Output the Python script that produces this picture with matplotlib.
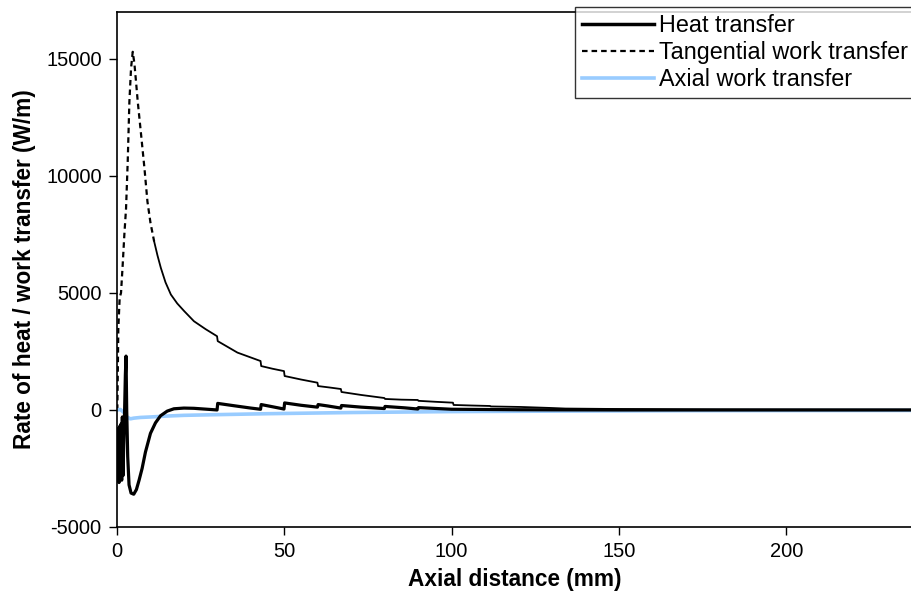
import matplotlib
matplotlib.use("Agg")
import matplotlib.pyplot as plt
from matplotlib.lines import Line2D

plt.rcParams['font.family'] = ['Liberation Sans', 'DejaVu Sans']
plt.rcParams['axes.unicode_minus'] = False

# Heat transfer
heat_x = [0, 0.2, 0.4, 0.6, 0.8, 1.0, 1.2, 1.4, 1.6, 1.8, 2.0, 2.2, 2.5, 2.7, 2.9,
          3.2, 3.6, 4.2, 5.0, 5.8, 6.6, 7.5, 8.5, 10, 11.5, 13, 15, 17, 20, 23, 26,
          29.9, 30.1, 35, 40, 42.9, 43.1, 46, 49.9, 50.1, 55, 59.9, 60.1, 63, 66.9,
          67.1, 73, 79.9, 80.1, 86, 89.9, 90.1, 100, 110, 120, 130, 150, 180, 238]
heat_y = [-800, -3000, -900, -3100, -700, -2900, -600, -3000, -300, -2800, -1500,
          -500, 1500, 2300, 0, -2000, -3200, -3550, -3600, -3400, -3000, -2500,
          -1800, -1000, -550, -250, -50, 50, 80, 70, 40, 0, 280, 180, 80, 30, 230,
          150, 40, 300, 200, 120, 230, 170, 80, 190, 120, 60, 150, 90, 40, 100, 30,
          20, 10, 5, 0, 0, 0]

# Tangential work transfer
tan_x = [0.1, 0.4, 0.8, 1.2, 1.7, 2.2, 2.7, 3.2, 3.7, 4.2, 4.7, 5.2, 5.7, 6.2, 7.2,
         8.2, 9.1, 10, 11.1, 12.1, 13.1, 14.5, 16.1, 18, 20.1, 23, 26.5, 29.9, 30.1,
         36, 42.9, 43.1, 46.5, 49.9, 50.1, 55, 59.9, 60.1, 63.5, 66.9, 67.1, 73,
         79.9, 80.1, 85, 89.9, 90.1, 95, 100.4, 100.6, 106, 111.5, 111.7, 120.6,
         129.6, 134, 150, 180, 238]
tan_y = [0, 3500, 4800, 5000, 6200, 7500, 8600, 10600, 13170, 14600, 15300, 14800,
         14000, 13170, 11760, 10330, 8900, 8000, 7200, 6600, 6070, 5450, 4930, 4550,
         4220, 3790, 3450, 3150, 2940, 2450, 2090, 1875, 1760, 1660, 1450, 1300,
         1165, 1020, 960, 895, 767, 640, 510, 470, 440, 426, 390, 350, 311, 213, 190,
         170, 150, 128, 85, 60, 40, 20, 10]

# Axial work transfer
ax_x = [0, 1, 2, 3, 4, 5, 7, 10, 15, 20, 30, 45, 70, 100, 130, 170, 238]
ax_y = [0, 20, -100, -300, -380, -350, -320, -300, -260, -230, -200, -160, -110,
        -70, -50, -30, -20]

xticks = [0, 50, 100, 150, 200]
yticks = [-5000, 0, 5000, 10000, 15000]

fig = plt.figure(figsize=(9.12, 5.96), dpi=100)
ax = fig.add_axes([117/912, 69/596, 1 - 117/912, (527-12)/596])

n_dash = tan_x.index(11.1) + 1
ax.plot(tan_x[:n_dash], tan_y[:n_dash], color='black', lw=1.6,
        linestyle=(0, (2.5, 1.8)))
ax.plot(tan_x[n_dash-1:], tan_y[n_dash-1:], color='black', lw=1.3)
ax.plot(ax_x, ax_y, color='#99CCFF', lw=2.6)
ax.plot(heat_x, heat_y, color='black', lw=2.3)

ax.set_xlim(0, 237.6)
ax.set_ylim(-5000, 17000)
ax.set_xticks(xticks)
ax.set_yticks(yticks)
ax.tick_params(direction='out', length=6, width=1, labelsize=14.5, pad=5)
for s in ax.spines.values():
    s.set_linewidth(1.2)
ax.spines['right'].set_visible(False)

ax.set_xlabel('Axial distance (mm)', fontsize=16.3, fontweight='bold', labelpad=5)
ax.set_ylabel('Rate of heat / work transfer (W/m)', fontsize=16.3,
              fontweight='bold', labelpad=7)

handles = [Line2D([], [], color='black', lw=2.5),
           Line2D([], [], color='black', lw=1.6, linestyle=(0, (2.5, 1.8))),
           Line2D([], [], color='#99CCFF', lw=2.6)]
labels = ['Heat transfer', 'Tangential work transfer', 'Axial work transfer']
leg = fig.legend(handles, labels, loc='upper right',
                 bbox_to_anchor=(1.003, 1 - 7/596), bbox_transform=fig.transFigure,
                 fontsize=16.8, frameon=True, fancybox=False, borderaxespad=0,
                 handlelength=3.1, handletextpad=0.2, labelspacing=0.18,
                 borderpad=0.3)
leg.get_frame().set_edgecolor('black')
leg.get_frame().set_linewidth(1.0)

fig.savefig('out.png', dpi=100)
